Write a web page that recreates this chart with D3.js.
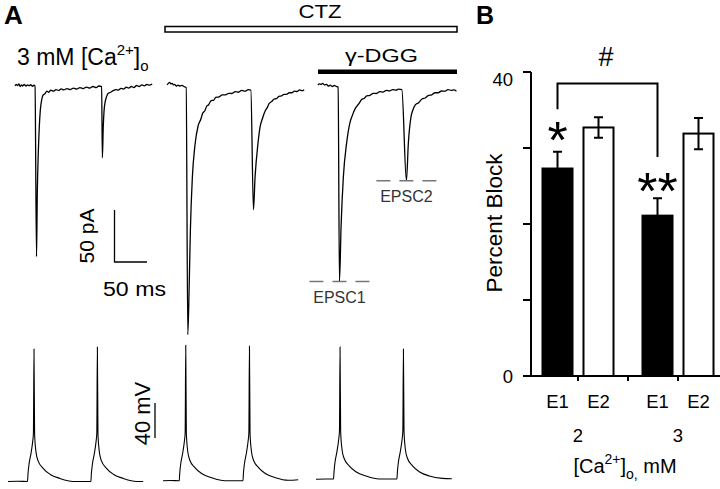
<!DOCTYPE html>
<html><head><meta charset="utf-8">
<script src="https://cdn.jsdelivr.net/npm/d3@7"></script>
<style>
html,body{margin:0;padding:0;background:#fff;}
svg{display:block;font-family:"Liberation Sans",Arial,Helvetica,sans-serif;}
</style>
</head><body>
<svg id="c" width="720" height="489"></svg>
<script>
// ---------------- DATA ----------------
// Panel A: EPSC sweeps, [time ms, current pA]
const epscControl = [[0,0],[2,1.5],[4,0.5],[6,2],[8,-0.5],[10,1],[12,0],[14,1.5],[17,0],[19,1],[22,0.3],[24,1.2],[27,-0.3],[29,0.8],[30.8,0],[33.1,-164],[34.3,-103],[35.8,-65],[37.4,-39],[39,-23],[41,-13.5],[43,-9],[46,-7.5],[49,-5],[52,-6],[55,-4],[59,-5],[63,-3.5],[67,-4.2],[71,-2.8],[75,-3.8],[80,-2.5],[85,-3.4],[90,-2],[95,-3],[100,-1.5],[105,-2.5],[110,-1],[115,-2],[120,-0.5],[125,-1.5],[129,0],[133.3,-0.5],[134.4,-69],[135.8,-39],[137,-24],[138.5,-16],[141,-10],[143.5,-7],[147,-6],[151,-4.5],[155,-3.5],[159,-4],[163,-2.2],[167,-3],[171,-1.2],[175,-2],[179,-0.5],[183,-1.5],[187,0.5],[191,-0.5],[195,1],[199,0.2],[203,1.5],[207,0.8],[211,2]];
const epscCTZ = [[0,1],[2,2.5],[4,3.5],[6,2],[8,2.5],[10,1],[12,1.5],[14,0],[17,0.8],[20,0],[23,0.6],[26,-0.5],[29.5,-1.5],[32,-239],[34,-196],[36,-138],[39,-88],[43,-57],[48,-38],[52,-32],[55,-26],[58,-24],[61,-19.5],[64,-18],[68,-14],[72,-13.5],[75,-11],[80,-10.5],[85,-8.5],[90,-8.5],[95,-7],[100,-7.2],[105,-5.5],[110,-6],[115,-4.3],[120,-5],[125,-3.5],[129,-4],[133,-119],[135.5,-87.5],[140,-55],[143,-40],[147,-31],[151,-24],[154,-21],[157,-17],[161,-15],[165,-12.5],[169,-12],[172,-10],[176,-9.5],[180,-8],[184,-8],[188,-6.5],[192,-6.5],[196,-5],[200,-5.3],[204,-3.8],[208,-4.5],[211,-3.5]];
const epscCTZDGG = [[0,1],[2,2],[5,1.5],[7,2.5],[10,1],[13,1.5],[16,0],[19,0.8],[22,-0.5],[25,0.5],[28,-0.3],[31,-1],[33,-188],[35.5,-135],[39,-87.5],[44,-55],[49,-35.6],[53,-28],[57,-22],[61,-18.5],[64,-16],[67,-13],[71,-12],[75,-9.5],[80,-9],[85,-7],[90,-7.2],[95,-5.5],[100,-5.8],[105,-4.3],[110,-4.8],[115,-3.5],[120,-4],[124,-3],[129,-3.5],[136,-91],[139,-55],[143,-30],[146,-23],[150,-18],[155,-16],[160,-12.5],[165,-11.5],[170,-9],[175,-8.5],[180,-6.5],[185,-6.5],[190,-4.8],[195,-5],[200,-3.5],[205,-4.2],[209,-3.8],[213,-5]];
// Panel A: presynaptic membrane potential, [time ms, mV]
const vmControl = [[0,-68.5],[15,-68.3],[30,-68.5],[30.8,-59.5],[32.3,-49.1],[35.4,-36.5],[38,-22.8],[39.1,-13.7],[40,82.7],[40.9,-13.7],[43,-34.5],[46,-44.5],[54,-53.5],[65,-60.5],[80,-65.1],[100,-68.5],[127.5,-68.5],[128.3,-59.5],[129.8,-49.1],[132.9,-36.5],[135.5,-22.8],[136.6,-13.7],[137.5,85],[138.4,-13.7],[140.5,-34.5],[143.5,-44.5],[151.5,-53.5],[162.5,-60.5],[177.5,-65.1],[197.5,-68.5],[208,-68.5]];
const vmCTZ = [[0,-67.7],[12,-67.5],[25,-67.7],[25.8,-58.7],[27.3,-48.3],[30.4,-35.7],[33,-22],[34.1,-12.9],[35,87],[35.9,-12.9],[38,-33.7],[41,-43.7],[49,-52.7],[60,-59.7],[75,-64.3],[95,-67.7],[123,-67.7],[123.8,-58.7],[125.3,-48.3],[128.4,-35.7],[131,-22],[132.1,-12.9],[133,86],[133.9,-12.9],[136,-33.7],[139,-43.7],[147,-52.7],[158,-59.7],[173,-64.3],[193,-67.2],[208,-66.5]];
const vmCTZDGG = [[0,-66],[15,-65.8],[27,-65.7],[27.8,-56.7],[29.3,-46.3],[32.4,-33.7],[35,-20],[36.1,-10.9],[37,85],[37.9,-10.9],[40,-31.7],[43,-41.7],[51,-50.7],[62,-57.7],[77,-62.3],[97,-65.7],[124.5,-65.7],[125.3,-56.7],[126.8,-46.3],[129.9,-33.7],[132.5,-20],[133.6,-10.9],[134.5,82.7],[135.4,-10.9],[137.5,-31.7],[140.5,-41.7],[148.5,-50.7],[159.5,-57.7],[174.5,-62.3],[194.5,-65],[209,-65.5]];
const epscMarkerLabels = ["EPSC1", "EPSC2"];
const scaleBarCurrent = 50, scaleBarTime = 50, scaleBarVoltage = 40;

// Panel B: percent block
const calciumLevels = ["2", "3"];
const epscNames = ["E1", "E2"];
const e1Mean = [27.3, 21.1];
const e1Sem  = [2.2, 2.3];
const e2Mean = [32.7, 31.9];
const e2Sem  = [1.35, 2.05];
const e1Stars = ["*", "**"];
const bracketLevels = [38.5, 35.1, 28.8]; // top, left end, right end
const yTicks = [0, 10, 20, 30, 40];
const yTickLabels = [0, 40];

// ---------------- DRAWING ----------------
const svg = d3.select("#c");
const black = "#000";

// Panel labels
svg.append("text").attr("x", 4).attr("y", 24).attr("font-size", 26).attr("font-weight", "bold").text("A");
svg.append("text").attr("x", 476).attr("y", 24).attr("font-size", 25).attr("font-weight", "bold").text("B");

// scales panel A
const tScale = d3.scaleLinear().domain([0, 100]).range([0, 65]);
const iScale = d3.scaleLinear().domain([0, -250]).range([86, 346]);
const vScale = d3.scaleLinear().domain([-68, 85]).range([481, 347]);

const iLine = d3.line().x(d => tScale(d[0])).y(d => iScale(d[1])).curve(d3.curveMonotoneX);
const vLine = d3.line().x(d => tScale(d[0])).y(d => vScale(d[1])).curve(d3.curveMonotoneX);

const topOffsets = [15, 167, 318];
const botOffsets = [8, 163, 316];
[epscControl, epscCTZ, epscCTZDGG].forEach((s, k) => {
  svg.append("path").attr("transform", `translate(${topOffsets[k]},0)`)
    .attr("d", iLine(s)).attr("fill", "none").attr("stroke", black).attr("stroke-width", 1.3);
});
[vmControl, vmCTZ, vmCTZDGG].forEach((s, k) => {
  svg.append("path").attr("transform", `translate(${botOffsets[k]},0)`)
    .attr("d", vLine(s)).attr("fill", "none").attr("stroke", black).attr("stroke-width", 1.1);
});

// condition labels
const t1 = svg.append("text").attr("x", 17).attr("y", 65).attr("font-size", 23);
t1.append("tspan").text("3 mM [Ca");
t1.append("tspan").attr("font-size", 15).attr("dy", -10).text("2+");
t1.append("tspan").attr("dy", 10).text("]");
t1.append("tspan").attr("font-size", 15).attr("dy", 6).text("o");

svg.append("rect").attr("x", 165).attr("y", 26.5).attr("width", 292).attr("height", 5.5)
  .attr("fill", "#fff").attr("stroke", black).attr("stroke-width", 1.5);
svg.append("text").attr("x", 320).attr("y", 17.5).attr("text-anchor", "middle").attr("font-size", 19)
  .attr("textLength", 43).attr("lengthAdjust", "spacingAndGlyphs").text("CTZ");
svg.append("rect").attr("x", 318).attr("y", 69.5).attr("width", 139).attr("height", 4.5).attr("fill", black);
svg.append("text").attr("x", 381.5).attr("y", 62).attr("text-anchor", "middle").attr("font-size", 19)
  .attr("textLength", 73).attr("lengthAdjust", "spacingAndGlyphs").text("γ-DGG");

// EPSC markers on CTZ + γ-DGG sweep
const dggPeaks = [epscCTZDGG[12], epscCTZDGG[35]];
dggPeaks.forEach((p, k) => {
  const cx = 318 + tScale(p[0]);
  const cy = iScale(p[1]);
  svg.append("line").attr("x1", cx - 30).attr("x2", cx + 30).attr("y1", cy).attr("y2", cy)
    .attr("stroke", "#777").attr("stroke-width", 1.5).attr("stroke-dasharray", "14,9");
  svg.append("text").attr("x", cx).attr("y", cy + 21).attr("text-anchor", "middle")
    .attr("font-size", 16).attr("fill", "#333").text(epscMarkerLabels[k]);
});

// scale bars
const sbX = 114.5, sbY = 262;
const pALen = iScale(-scaleBarCurrent) - iScale(0);
const msLen = tScale(scaleBarTime) - tScale(0);
svg.append("path").attr("d", `M${sbX},${sbY - pALen}V${sbY}H${sbX + msLen}`)
  .attr("fill", "none").attr("stroke", black).attr("stroke-width", 1.3);
svg.append("text").attr("transform", `translate(93.5,${sbY - pALen / 2}) rotate(-90)`)
  .attr("text-anchor", "middle").attr("font-size", 21).text(`${scaleBarCurrent} pA`);
svg.append("text").attr("x", 103).attr("y", 296).attr("font-size", 20)
  .attr("textLength", 63).attr("lengthAdjust", "spacingAndGlyphs").text(`${scaleBarTime} ms`);
const mVLen = vScale(-68) - vScale(-68 + scaleBarVoltage);
svg.append("line").attr("x1", 155).attr("x2", 155).attr("y1", 403).attr("y2", 403 + mVLen)
  .attr("stroke", black).attr("stroke-width", 1.3);
svg.append("text").attr("transform", `translate(150,413.5) rotate(-90)`)
  .attr("text-anchor", "middle").attr("font-size", 22).text(`${scaleBarVoltage} mV`);

// ---------------- Panel B ----------------
const yB = d3.scaleLinear().domain([0, 40]).range([376, 72]);
const xGroup = d3.scaleBand().domain(calciumLevels).range([537, 719]).paddingInner(0.18).paddingOuter(0);
const xInner = d3.scaleBand().domain(epscNames).range([0, xGroup.bandwidth()]).paddingInner(0.268).paddingOuter(0.134);
const bw = xInner.bandwidth();
const cxOf = (g, e) => xGroup(g) + xInner(e) + bw / 2;

calciumLevels.forEach((g, i) => {
  svg.append("rect").attr("x", xGroup(g) + xInner("E1")).attr("y", yB(e1Mean[i]))
    .attr("width", bw).attr("height", yB(0) - yB(e1Mean[i]))
    .attr("fill", black).attr("stroke", black).attr("stroke-width", 2);
  svg.append("rect").attr("x", xGroup(g) + xInner("E2")).attr("y", yB(e2Mean[i]))
    .attr("width", bw).attr("height", yB(0) - yB(e2Mean[i]))
    .attr("fill", "#fff").attr("stroke", black).attr("stroke-width", 2);
  const c1 = cxOf(g, "E1"), c2 = cxOf(g, "E2");
  svg.append("path").attr("d",
      `M${c1},${yB(e1Mean[i])}V${yB(e1Mean[i] + e1Sem[i])}M${c1 - 4.5},${yB(e1Mean[i] + e1Sem[i])}H${c1 + 4.5}`)
    .attr("stroke", black).attr("stroke-width", 2).attr("fill", "none");
  svg.append("path").attr("d",
      `M${c2},${yB(e2Mean[i] - e2Sem[i])}V${yB(e2Mean[i] + e2Sem[i])}` +
      `M${c2 - 4.5},${yB(e2Mean[i] + e2Sem[i])}H${c2 + 4.5}` +
      `M${c2 - 4.5},${yB(e2Mean[i] - e2Sem[i])}H${c2 + 4.5}`)
    .attr("stroke", black).attr("stroke-width", 2).attr("fill", "none");
  svg.append("text").attr("x", c1).attr("y", yB(e1Mean[i] + e1Sem[i]) - 0.5 + (i === 0 ? 7 : 11))
    .attr("text-anchor", "middle").attr("font-size", 52).text(e1Stars[i]);
  epscNames.forEach(e => {
    svg.append("text").attr("x", cxOf(g, e)).attr("y", 408).attr("text-anchor", "middle")
      .attr("font-size", 18.5).text(e);
  });
  svg.append("text").attr("x", xGroup(g) + xGroup.bandwidth() / 2).attr("y", 441.5)
    .attr("text-anchor", "middle").attr("font-size", 18.5).text(g);
});

// axes
svg.append("line").attr("x1", 531).attr("x2", 531).attr("y1", yB(40)).attr("y2", yB(0) + 1)
  .attr("stroke", black).attr("stroke-width", 2);
yTicks.forEach(v => {
  svg.append("line").attr("x1", 523).attr("x2", 531).attr("y1", yB(v)).attr("y2", yB(v))
    .attr("stroke", black).attr("stroke-width", 2);
});
yTickLabels.forEach(v => {
  svg.append("text").attr("x", 513).attr("y", yB(v) + (v === 40 ? 14 : 7))
    .attr("text-anchor", "end").attr("font-size", 18.5).text(v);
});
svg.append("line").attr("x1", 530).attr("x2", 720).attr("y1", yB(0)).attr("y2", yB(0))
  .attr("stroke", black).attr("stroke-width", 2);
const xTickPos = [
  xGroup("2") + xGroup.bandwidth() / 2,
  (xGroup("2") + xGroup.bandwidth() + xGroup("3")) / 2,
  xGroup("3") + xGroup.bandwidth() / 2
];
xTickPos.forEach(x => {
  svg.append("line").attr("x1", x).attr("x2", x).attr("y1", yB(0)).attr("y2", yB(0) + 5)
    .attr("stroke", black).attr("stroke-width", 2);
});

// comparison bracket
const bx1 = cxOf("2", "E1"), bx2 = cxOf("3", "E1");
svg.append("path").attr("d", `M${bx1},${yB(bracketLevels[1])}V${yB(bracketLevels[0])}H${bx2}V${yB(bracketLevels[2])}`)
  .attr("fill", "none").attr("stroke", black).attr("stroke-width", 2);
svg.append("text").attr("x", (bx1 + bx2) / 2 - 1.5).attr("y", 65.5).attr("text-anchor", "middle")
  .attr("font-size", 27).text("#");

// axis titles
svg.append("text").attr("transform", "translate(501.5,223) rotate(-90)").attr("text-anchor", "middle")
  .attr("font-size", 22.5).text("Percent Block");
const xt = svg.append("text").attr("x", 625).attr("y", 473).attr("text-anchor", "middle").attr("font-size", 20);
xt.append("tspan").text("[Ca");
xt.append("tspan").attr("font-size", 14).attr("dy", -9).text("2+");
xt.append("tspan").attr("dy", 9).text("]");
xt.append("tspan").attr("font-size", 14).attr("dy", 6).text("o,");
xt.append("tspan").attr("dy", -6).text(" mM");
</script>
</body></html>
